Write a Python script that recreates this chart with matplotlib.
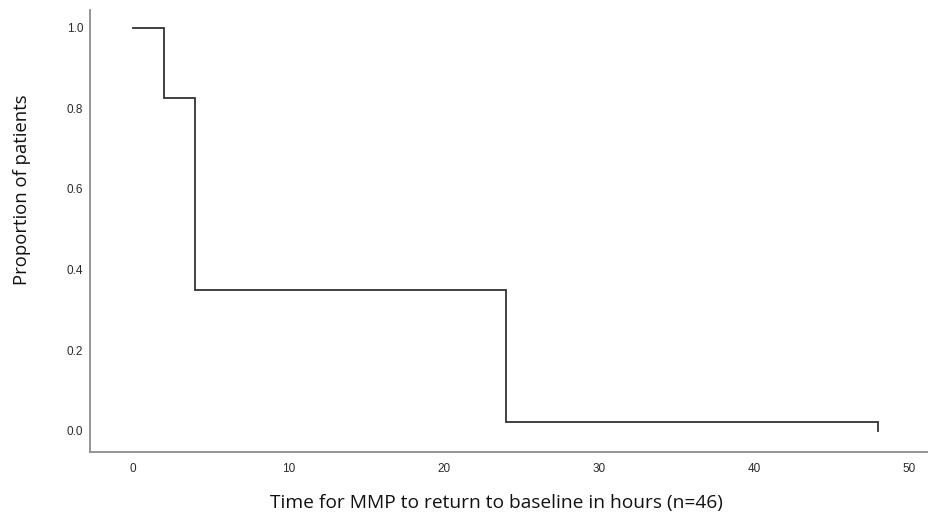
import matplotlib
matplotlib.use("Agg")
import matplotlib.pyplot as plt

# Kaplan-Meier style step data
hours = [0, 2, 4, 24, 48]
proportion = [1.0, 0.826, 0.348, 0.022, 0.0]
x_ticks = [0, 10, 20, 30, 40, 50]
y_ticks = [0.0, 0.2, 0.4, 0.6, 0.8, 1.0]

W, H = 929, 519
fig = plt.figure(figsize=(W / 100, H / 100), dpi=100)
ax = fig.add_axes([90 / W, 1 - 452 / H, (W - 90) / W, (452 - 10) / H])

# build the step path: horizontal at each level, then vertical drop
xs, ys = [hours[0]], [proportion[0]]
for i in range(1, len(hours)):
    xs += [hours[i], hours[i]]
    ys += [proportion[i - 1], proportion[i]]
ax.plot(xs, ys, color="#333333", lw=1.3, solid_joinstyle="miter")

ax.set_xlim(-2.77, 51.26)
ax.set_ylim(-0.053, 1.044)
ax.set_xticks(x_ticks)
ax.set_yticks(y_ticks)
ax.set_yticklabels([f"{v:.1f}" for v in y_ticks])

for s in ["top", "right"]:
    ax.spines[s].set_visible(False)
for s in ["left", "bottom"]:
    ax.spines[s].set_color("#8c8c8c")
    ax.spines[s].set_linewidth(1.3)

ax.tick_params(axis="both", length=0, labelsize=8.5, labelcolor="#2a2a2a",
               labelfontfamily="Liberation Sans")
ax.tick_params(axis="y", pad=5)
ax.tick_params(axis="x", pad=8)

fig.text(22 / W, 1 - 190 / H, "Proportion of patients", rotation=90,
         ha="center", va="center", fontsize=13.3, family="Open Sans", color="#111111")
fig.text(496 / W, 1 - 503 / H, "Time for MMP to return to baseline in hours (n=46)",
         ha="center", va="center", fontsize=13.8, family="Open Sans", color="#111111")

fig.savefig("out.png", dpi=100)
